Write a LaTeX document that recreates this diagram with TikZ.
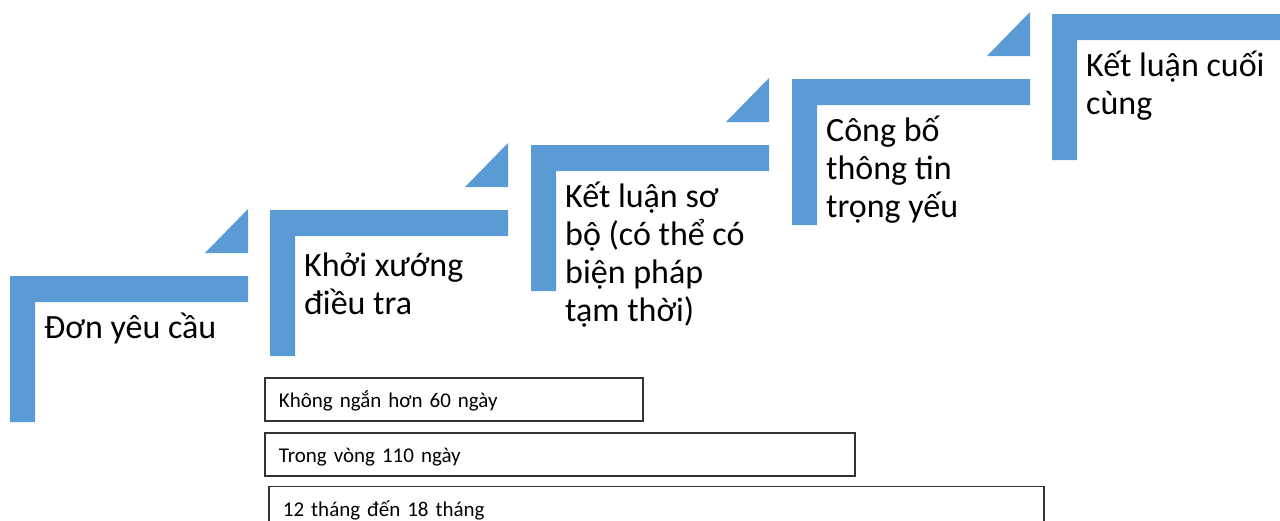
\documentclass[tikz,border=0pt]{standalone}
\usepackage{fontspec}
\setmainfont{Carlito}
\usetikzlibrary{positioning}

\definecolor{stepblue}{HTML}{5B9BD5}

\begin{document}
\begin{tikzpicture}[x=1pt,y=-1pt,
        stair/.pic={\fill[stepblue] (0,0) -- (238,0) -- (238,26) -- (25,26) -- (25,146) -- (0,146) -- cycle;},
        notch/.pic={\fill[stepblue] (238,-67) -- (238,-23) -- (195,-23) -- cycle;},
        steptext/.style={anchor=base west,align=left,inner sep=0pt,font=\fontsize{34}{38}\selectfont},
        timebox/.style={draw=black!80,line width=1.8pt,anchor=north west,minimum height=43pt,
            inner xsep=14pt,inner ysep=0pt,text height=20pt,text depth=3pt,align=left,
            font=\fontsize{21}{24}\selectfont}]
    \useasboundingbox (0,0) rectangle (1280,520);
    % the five steps
    \pic at (10,276) {stair};    \pic at (10,276) {notch};
    \pic at (270,210) {stair};   \pic at (270,210) {notch};
    \pic at (531,145) {stair};   \pic at (531,145) {notch};
    \pic at (792,79) {stair};    \pic at (792,79) {notch};
    \pic at (1052,14) {stair};
    % base = last line
    \node[steptext] (don)     at (44,338)   {Đơn yêu cầu};
    \node[steptext] (khoi)    at (304,314)  {Khởi xướng\\điều tra};
    \node[steptext] (soBo)    at (565,321)  {Kết luận sơ\\bộ (có thể có\\biện pháp\\tạm thời)};
    \node[steptext] (congBo)  at (826,217)  {Công bố\\thông tin\\trọng yếu};
    \node[steptext] (cuoi)    at (1086,114) {Kết luận cuối\\cùng};
    % time spans
    \node[timebox,text width=350pt] (t1) at (264,377) {Không ngắn hơn 60 ngày};
    \node[timebox,text width=562pt] (t2) [below=10pt of t1.south west,anchor=north west] {Trong vòng 110 ngày};
    \node[timebox,text width=747pt] (t3) [below=9pt of t2.south west,anchor=north west,xshift=4pt] {12 tháng đến 18 tháng};
\end{tikzpicture}
\end{document}
